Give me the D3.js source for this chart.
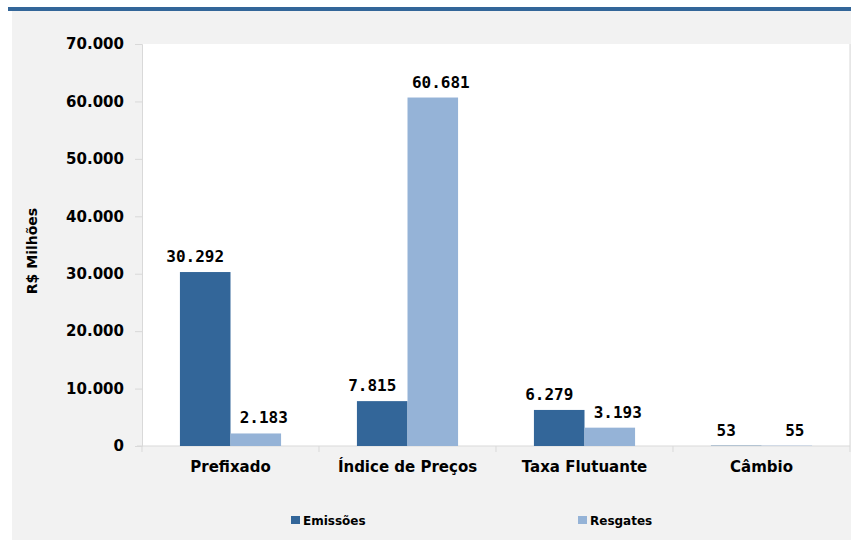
<!DOCTYPE html>
<html>
<head>
<meta charset="utf-8">
<script src="https://cdn.jsdelivr.net/npm/d3@7"></script>
<style>
  body { margin: 0; background: #ffffff; }
  svg { display: block; }
</style>
</head>
<body>
<div id="chart"></div>
<script>
// chart data
var categories = ["Prefixado", "Índice de Preços", "Taxa Flutuante", "Câmbio"];
var seriesNames = ["Emissões", "Resgates"];
var emissoes = [30292, 7815, 6279, 53];
var resgates = [2183, 60681, 3193, 55];
var yTicks = [0, 10000, 20000, 30000, 40000, 50000, 60000, 70000];

var colors = ["#336699", "#95b3d7"];

// svg size
var svgWidth = 851;
var svgHeight = 540;

// plot area
var plot = { left: 142, right: 850, top: 44, bottom: 446 };

var svg = d3.select("#chart")
  .append("svg")
  .attr("width", svgWidth)
  .attr("height", svgHeight);

// background panel and top line
svg.append("rect")
  .attr("x", 12).attr("y", 11)
  .attr("width", svgWidth - 12).attr("height", svgHeight - 11)
  .attr("fill", "#f2f2f2");

svg.append("rect")
  .attr("x", 8).attr("y", 7)
  .attr("width", svgWidth - 8).attr("height", 4)
  .attr("fill", "#336699");

svg.append("rect")
  .attr("x", plot.left).attr("y", plot.top)
  .attr("width", plot.right - plot.left).attr("height", plot.bottom - plot.top)
  .attr("fill", "#ffffff");

// scales
var xScale = d3.scaleBand()
  .domain(categories)
  .range([plot.left, plot.right]);

var xInner = d3.scaleBand()
  .domain(seriesNames)
  .range([0, xScale.bandwidth()])
  .paddingOuter(0.75);

var yScale = d3.scaleLinear()
  .domain([0, 70000])
  .range([plot.bottom, plot.top]);

var fmt = function (v) { return d3.format(",")(v).replace(/,/g, "."); };

// left axis
var leftAxis = d3.axisLeft(yScale)
  .tickValues(yTicks)
  .tickSize(7)
  .tickPadding(11)
  .tickFormat(fmt);

var yAxisG = svg.append("g")
  .attr("transform", `translate(${plot.left}, 0)`)
  .call(leftAxis);

yAxisG.select(".domain").attr("stroke", "#d9d9d9");
yAxisG.selectAll(".tick line").attr("stroke", "#d9d9d9");
yAxisG.selectAll("text")
  .attr("fill", "#000")
  .style("font-family", "DejaVu Sans, sans-serif")
  .style("font-weight", "bold")
  .style("font-size", "15px");

// bottom axis (category dividers)
var bottomAxis = d3.axisBottom(xScale)
  .tickSize(0)
  .tickPadding(12);

var xAxisG = svg.append("g")
  .attr("transform", `translate(0, ${plot.bottom})`)
  .call(bottomAxis);

xAxisG.select(".domain").remove();
xAxisG.selectAll("text")
  .attr("fill", "#000")
  .attr("dy", "0.9em")
  .style("font-family", "DejaVu Sans, sans-serif")
  .style("font-weight", "bold")
  .style("font-size", "15px");

svg.append("line")
  .attr("x1", plot.left - 5).attr("x2", plot.right)
  .attr("y1", plot.bottom).attr("y2", plot.bottom)
  .attr("stroke", "#d9d9d9");

svg.selectAll(".divider")
  .data(categories.slice(1).concat(["end"]))
  .enter()
  .append("line")
  .attr("class", "divider")
  .attr("x1", (d, i) => i < 3 ? xScale(d) : plot.right)
  .attr("x2", (d, i) => i < 3 ? xScale(d) : plot.right)
  .attr("y1", (d, i) => i < 3 ? plot.bottom : plot.top)
  .attr("y2", plot.bottom + 6)
  .attr("stroke", "#d9d9d9");

svg.append("line")
  .attr("x1", plot.left).attr("x2", plot.left)
  .attr("y1", plot.bottom).attr("y2", plot.bottom + 6)
  .attr("stroke", "#d9d9d9");

// y axis title
svg.append("text")
  .attr("transform", "translate(37, 251) rotate(-90)")
  .attr("text-anchor", "middle")
  .style("font-family", "DejaVu Sans, sans-serif")
  .style("font-weight", "bold")
  .style("font-size", "14px")
  .text("R$ Milhões");

// bars
var rows = categories.map(function (c, i) {
  return { cat: c, values: [emissoes[i], resgates[i]] };
});

var groups = svg.selectAll(".group")
  .data(rows)
  .enter()
  .append("g")
  .attr("class", "group")
  .attr("transform", d => `translate(${xScale(d.cat)}, 0)`);

groups.selectAll("rect")
  .data(d => d.values.map((v, j) => ({ name: seriesNames[j], value: v, j: j })))
  .enter()
  .append("rect")
  .attr("x", d => xInner(d.name))
  .attr("y", d => yScale(d.value))
  .attr("width", xInner.bandwidth())
  .attr("height", d => plot.bottom - yScale(d.value))
  .attr("fill", d => colors[d.j]);

// value labels
var labelShift = [-10, 8];
groups.selectAll(".val")
  .data(d => d.values.map((v, j) => ({ name: seriesNames[j], value: v, j: j })))
  .enter()
  .append("text")
  .attr("class", "val")
  .attr("x", d => xInner(d.name) + xInner.bandwidth() / 2 + labelShift[d.j])
  .attr("y", d => yScale(d.value) - 10)
  .attr("text-anchor", "middle")
  .style("font-family", "DejaVu Sans Mono, monospace")
  .style("font-weight", "bold")
  .style("font-size", "16px")
  .text(d => fmt(d.value));

// legend
var legendX = [291, 578];
var legend = svg.selectAll(".legend")
  .data(seriesNames)
  .enter()
  .append("g")
  .attr("class", "legend")
  .attr("transform", (d, i) => `translate(${legendX[i]}, 516)`);

legend.append("rect")
  .attr("width", 9).attr("height", 8)
  .attr("fill", (d, i) => colors[i]);

legend.append("text")
  .attr("x", 12)
  .attr("y", 9)
  .style("font-family", "DejaVu Sans, sans-serif")
  .style("font-weight", "bold")
  .style("font-size", "12px")
  .text(d => d);
</script>
</body>
</html>
